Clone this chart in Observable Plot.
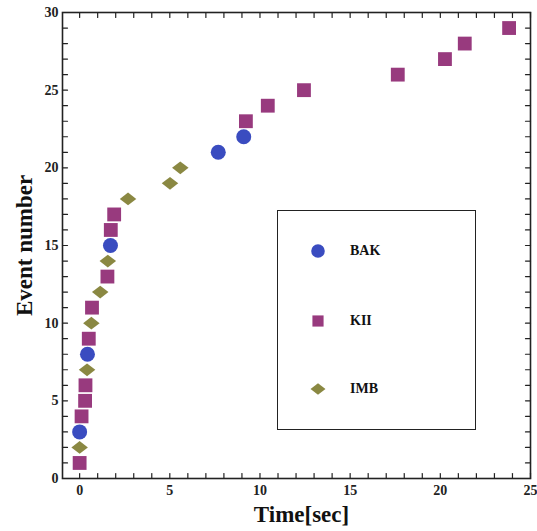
<!DOCTYPE html>
<html>
<head>
<meta charset="utf-8">
<script src="https://cdn.jsdelivr.net/npm/d3@7"></script>
<script src="https://cdn.jsdelivr.net/npm/@observablehq/plot@0.6"></script>
<style>
  html, body { margin: 0; padding: 0; background: #fff; }
  #wrap { position: relative; width: 537px; height: 531px; }
  #legend { position: absolute; left: 277px; top: 210px; width: 199px; height: 220px;
            border: 1.5px solid #222; box-sizing: border-box; background: #fff; }
  .item { position: absolute; left: 0; display: flex; align-items: center;
          font-family: "Liberation Serif", "DejaVu Serif", serif; font-weight: bold; font-size: 14px; color: #111; }
  .item svg { margin-left: 32px; margin-right: 24px; }
</style>
</head>
<body>
<div id="wrap"></div>
<script>
// Event times (s) and cumulative event numbers for each detector
const bakTime = [0, 0.435, 1.710, 7.687, 9.099];
const bakEvent = [3, 8, 15, 21, 22];
const kiiTime = [0, 0.107, 0.303, 0.324, 0.507, 0.686, 1.541, 1.728, 1.915, 9.219, 10.433, 12.439, 17.641, 20.257, 21.355, 23.814];
const kiiEvent = [1, 4, 5, 6, 9, 11, 13, 16, 17, 23, 24, 25, 26, 27, 28, 29];
const imbTime = [0, 0.412, 0.650, 1.141, 1.562, 2.684, 5.010, 5.582];
const imbEvent = [2, 7, 10, 12, 14, 18, 19, 20];
const seriesNames = ["BAK", "KII", "IMB"];
const xMajorTicks = [0, 5, 10, 15, 20, 25];
const yMajorTicks = [0, 5, 10, 15, 20, 25, 30];

const colors = {BAK: "#3a4cc0", KII: "#983a7e", IMB: "#8a8842"};

const wideDiamond = {
  draw(context, size) {
    const r = Math.sqrt(size / Math.PI);
    const w = r * 1.1, h = r * 0.85;
    context.moveTo(0, -h);
    context.lineTo(w, 0);
    context.lineTo(0, h);
    context.lineTo(-w, 0);
    context.closePath();
  }
};
const symbols = {BAK: "circle", KII: "square", IMB: wideDiamond};

const bak = bakTime.map((t, i) => ({t, n: bakEvent[i], s: "BAK"}));
const kii = kiiTime.map((t, i) => ({t, n: kiiEvent[i], s: "KII"}));
const imb = imbTime.map((t, i) => ({t, n: imbEvent[i], s: "IMB"}));

const font = "'Liberation Serif', 'DejaVu Serif', serif";
const xMinor = d3.range(0, 26);
const yMinor = d3.range(0, 31);
const tickShape = {draw(context, l) { context.moveTo(0, 0); context.lineTo(0, -l); }};
const tickOpts = {length: 5, anchor: "start", shape: tickShape, stroke: "#222", strokeWidth: 1.2};

const chart = Plot.plot({
  width: 537,
  height: 531,
  marginLeft: 62,
  marginRight: 7,
  marginTop: 12,
  marginBottom: 53,
  style: {fontFamily: font, fontSize: "14px", fontWeight: "bold", color: "#222", background: "#fff"},
  x: {domain: [-0.95, 25]},
  y: {domain: [0, 30]},
  marks: [
    Plot.axisX({ticks: xMajorTicks, tickSize: 0, tickPadding: 7, fontSize: 14, fontFamily: font, fontWeight: "bold", label: null}),
    Plot.axisY({ticks: yMajorTicks, tickSize: 0, tickPadding: 4, fontSize: 14, fontFamily: font, fontWeight: "bold", label: null}),
    Plot.vectorX(xMinor, {x: d => d, frameAnchor: "bottom", rotate: 0, ...tickOpts}),
    Plot.vectorX(xMinor, {x: d => d, frameAnchor: "top", rotate: 180, ...tickOpts}),
    Plot.vectorY(yMinor, {y: d => d, frameAnchor: "left", rotate: 90, ...tickOpts}),
    Plot.vectorY(yMinor, {y: d => d, frameAnchor: "right", rotate: -90, ...tickOpts}),
    Plot.frame({stroke: "#222", strokeWidth: 1.6}),
    Plot.dot(bak, {x: "t", y: "n", r: 7.5, symbol: () => symbols.BAK, fill: colors.BAK, stroke: null}),
    Plot.dot(kii, {x: "t", y: "n", r: 7.8, symbol: () => symbols.KII, fill: colors.KII, stroke: null}),
    Plot.dot(imb, {x: "t", y: "n", r: 7.5, symbol: () => symbols.IMB, fill: colors.IMB, stroke: null}),
    Plot.text(["Time[sec]"], {frameAnchor: "bottom", textAnchor: "middle", lineAnchor: "middle", dx: 5, dy: 36, fontSize: 23, fontFamily: font, fontWeight: "bold", fill: "#111"}),
    Plot.text(["Event number"], {frameAnchor: "left", textAnchor: "middle", lineAnchor: "middle", dx: -38, rotate: -90, fontSize: 23, fontFamily: font, fontWeight: "bold", fill: "#111"})
  ]
});

const wrap = document.getElementById("wrap");
wrap.appendChild(chart);

// legend overlay
const legend = document.createElement("div");
legend.id = "legend";
const itemTops = [40, 110, 178];
seriesNames.forEach((name, i) => {
  const item = document.createElement("div");
  item.className = "item";
  item.style.top = (itemTops[i] - 10) + "px";
  const s = d3.create("svg").attr("width", 16).attr("height", 20);
  const sym = symbols[name];
  const r = name === "BAK" ? 6.8 : name === "KII" ? 6.3 : 6.8;
  const symObj = sym === "circle" ? d3.symbolCircle : sym === "square" ? d3.symbolSquare : sym;
  s.append("path")
    .attr("transform", "translate(8,10)")
    .attr("d", d3.symbol(symObj, Math.PI * r * r)())
    .attr("fill", colors[name]);
  item.appendChild(s.node());
  const label = document.createElement("span");
  label.textContent = name;
  item.appendChild(label);
  legend.appendChild(item);
});
wrap.appendChild(legend);
</script>
</body>
</html>
